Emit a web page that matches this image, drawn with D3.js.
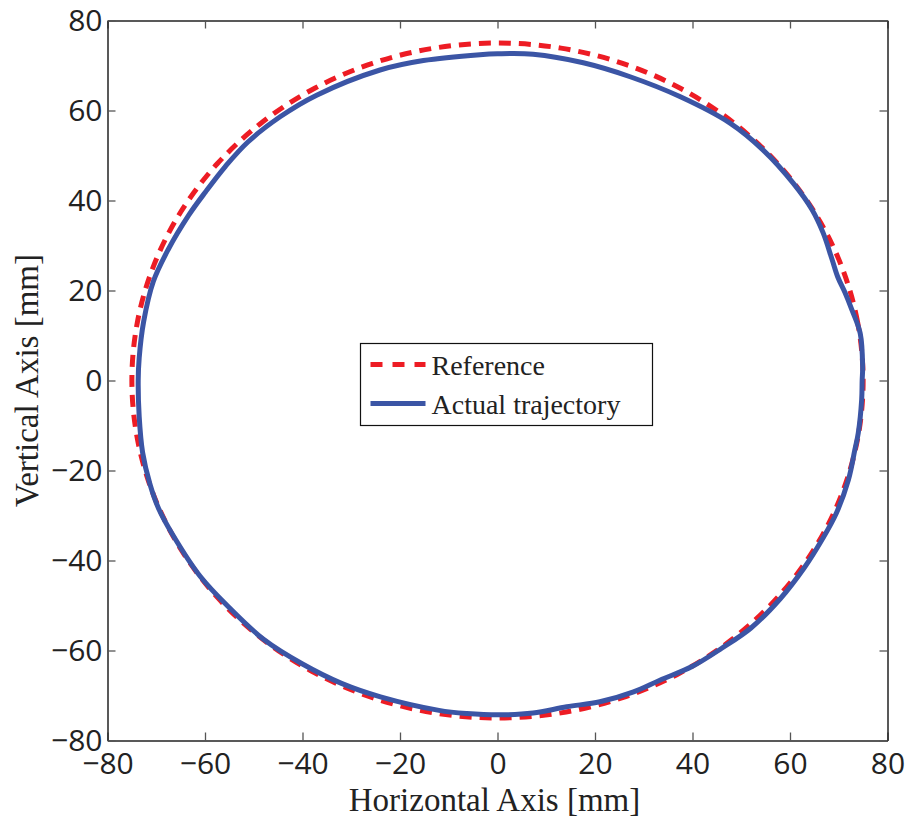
<!DOCTYPE html>
<html>
<head>
<meta charset="utf-8">
<script src="https://cdn.jsdelivr.net/npm/d3@7"></script>
<style>
  html, body { margin: 0; padding: 0; background: #fff; }
  svg { display: block; }
</style>
</head>
<body>
<svg id="chart" width="909" height="821"></svg>
<script>
// Reference circle (radius 75 mm), points in mm
const referenceX = [75, 73.86, 70.48, 64.95, 57.45, 48.21, 37.5, 25.65, 13.02, 0,
  -13.02, -25.65, -37.5, -48.21, -57.45, -64.95, -70.48, -73.86, -75,
  -73.86, -70.48, -64.95, -57.45, -48.21, -37.5, -25.65, -13.02, 0,
  13.02, 25.65, 37.5, 48.21, 57.45, 64.95, 70.48, 73.86];
const referenceY = [0, 13.02, 25.65, 37.5, 48.21, 57.45, 64.95, 70.48, 73.86, 75,
  73.86, 70.48, 64.95, 57.45, 48.21, 37.5, 25.65, 13.02, 0,
  -13.02, -25.65, -37.5, -48.21, -57.45, -64.95, -70.48, -73.86, -75,
  -73.86, -70.48, -64.95, -57.45, -48.21, -37.5, -25.65, -13.02];

// Measured end-effector trajectory, points in mm
const actualX = [74.8, 74.9, 74.4, 72.7, 71.3, 69.8, 68.6, 66.8, 64.5, 60.7, 54.5, 47.7,
  37.4, 27.2, 17.6, 7.3, 0, -3.6, -15.2, -24.1, -37.1, -44.6, -51.2, -55.8, -59.9,
  -63.3, -67.6, -70.6, -72.6, -73.5, -73.7, -73.5, -72.8, -71.3, -69.5,
  -66.5, -61, -55, -48, -40, -32, -24, -12, -6.3, 0.5, 7.3, 14.2, 21, 27.9, 33.3,
  40, 46, 52, 58, 63, 66.5, 69.5, 72, 73.3, 74, 74.7];
const actualY = [0, 3, 10.5, 15.7, 19.5, 23.0, 27, 32.8, 38, 43.8, 51.2, 57.2,
  63.1, 67.5, 70.6, 72.5, 72.6, 72.4, 71.1, 69, 63.4, 58.6, 53.0, 47.6, 41.9,
  36.8, 29, 22, 13, 5, 0, -8, -16, -23, -28.5,
  -34.5, -43.5, -50.5, -57.5, -63, -67.3, -70.3, -73.3, -74.0, -74.3, -73.9, -72.5, -71.4, -69.2, -66.6,
  -63.5, -59.5, -55, -48.5, -41.5, -35.5, -29.5, -22, -15.4, -11.7, -4.3];

const tickValues = [-80, -60, -40, -20, 0, 20, 40, 60, 80];
const seriesNames = ["Reference", "Actual trajectory"];

const svg = d3.select("#chart");
const plot = { left: 107.5, right: 887.5, top: 20.5, bottom: 740.5 };

const x = d3.scaleLinear().domain([-80, 80]).range([plot.left, plot.right]);
const y = d3.scaleLinear().domain([-80, 80]).range([plot.bottom, plot.top]);

const fmt = d => (d < 0 ? "\u2212" + Math.abs(d) : String(d));

const refPts = referenceX.map((v, i) => [v, referenceY[i]]);
const actPts = actualX.map((v, i) => [v, actualY[i]]);

const line = d3.line()
  .x(d => x(d[0]))
  .y(d => y(d[1]))
  .curve(d3.curveCatmullRomClosed.alpha(0.5));

const red = "#ed1c24";
const blue = "#3b55a5";

svg.append("path")
  .attr("d", line(refPts))
  .attr("fill", "none")
  .attr("stroke", red)
  .attr("stroke-width", 5)
  .attr("stroke-dasharray", "12,8");

svg.append("path")
  .attr("d", line(actPts))
  .attr("fill", "none")
  .attr("stroke", blue)
  .attr("stroke-width", 5)
  .attr("stroke-linejoin", "round");

// Axes with inward ticks on all four sides
function styleAxis(g) {
  g.select(".domain").attr("stroke", "#222").attr("stroke-width", 1.5);
  g.selectAll(".tick line").attr("stroke", "#555").attr("stroke-width", 1.3);
  g.selectAll(".tick text")
    .attr("fill", "#222")
    .style("font-family", "'Open Sans', sans-serif")
    .style("font-size", "30px");
}

svg.append("g")
  .attr("transform", `translate(0,${plot.bottom})`)
  .call(d3.axisBottom(x).tickValues(tickValues).tickFormat(fmt).tickSize(-8).tickSizeOuter(0).tickPadding(12))
  .call(styleAxis);

svg.append("g")
  .attr("transform", `translate(0,${plot.top})`)
  .call(d3.axisTop(x).tickValues(tickValues).tickFormat("").tickSize(-8).tickSizeOuter(0))
  .call(styleAxis);

svg.append("g")
  .attr("transform", `translate(${plot.left},0)`)
  .call(d3.axisLeft(y).tickValues(tickValues).tickFormat(fmt).tickSize(-8).tickSizeOuter(0).tickPadding(5))
  .call(styleAxis);

svg.append("g")
  .attr("transform", `translate(${plot.right},0)`)
  .call(d3.axisRight(y).tickValues(tickValues).tickFormat("").tickSize(-8).tickSizeOuter(0))
  .call(styleAxis);

// Axis titles
svg.append("text")
  .attr("x", (plot.left + plot.right) / 2 - 3)
  .attr("y", 811)
  .attr("text-anchor", "middle")
  .style("font-family", "'Liberation Serif', 'Times New Roman', serif")
  .style("font-size", "33px")
  .attr("fill", "#222")
  .text("Horizontal Axis [mm]");

svg.append("text")
  .attr("transform", `translate(38,${(plot.top + plot.bottom) / 2}) rotate(-90)`)
  .attr("text-anchor", "middle")
  .style("font-family", "'Liberation Serif', 'Times New Roman', serif")
  .style("font-size", "33px")
  .attr("fill", "#222")
  .text("Vertical Axis [mm]");

// Legend
const legend = svg.append("g").attr("transform", "translate(360.5,343.5)");
legend.append("rect")
  .attr("width", 292).attr("height", 82)
  .attr("fill", "#fff").attr("stroke", "#111").attr("stroke-width", 1.2);

const legendRows = [
  { name: seriesNames[0], color: red, dash: "12,10" },
  { name: seriesNames[1], color: blue, dash: null }
];
legendRows.forEach((r, i) => {
  const cy = 21 + i * 39;
  legend.append("line")
    .attr("x1", 10).attr("x2", 65).attr("y1", cy).attr("y2", cy)
    .attr("stroke", r.color).attr("stroke-width", 5)
    .attr("stroke-dasharray", r.dash);
  legend.append("text")
    .attr("x", 71).attr("y", cy + 10)
    .style("font-family", "'Liberation Serif', 'Times New Roman', serif")
    .style("font-size", "28px")
    .attr("fill", "#222")
    .text(r.name);
});
</script>
</body>
</html>
